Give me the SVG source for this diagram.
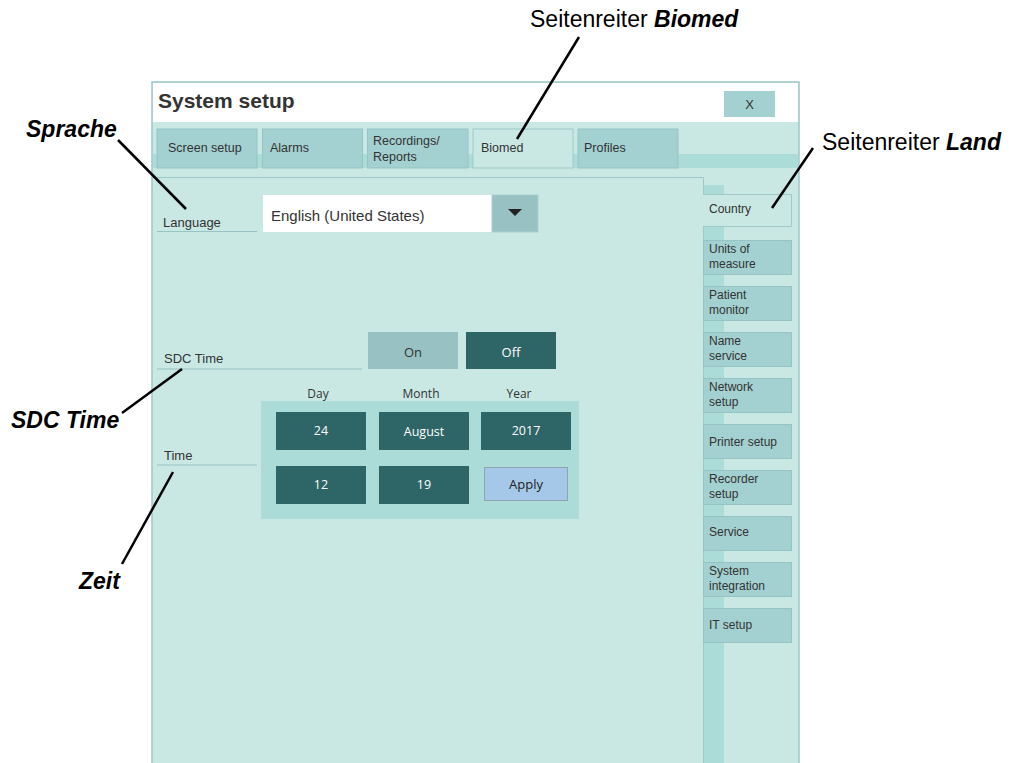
<svg xmlns="http://www.w3.org/2000/svg" width="1013" height="763" viewBox="0 0 1013 763">
  <style>
    .ui { font-family: "Liberation Sans", Arial, sans-serif; fill: #333; }
    .seg { font-family: "Open Sans", "Liberation Sans", sans-serif; }
    .note { font-family: "Liberation Sans", Arial, sans-serif; font-size: 23px; fill: #000; }
    .bi { font-weight: bold; font-style: italic; }
    .tab { fill: #a3d0d0; stroke: #96c3c3; stroke-width: 1; }
    .side { fill: #a3d0d0; stroke: #96c3c3; stroke-width: 1; }
    .dark { fill: #2e6566; }
    .lead { stroke: #000; stroke-width: 2.5; fill: none; }
    .rule { stroke: #96c3c3; stroke-width: 1; }
  </style>

  <rect width="1013" height="763" fill="#fff"/>

  <!-- window frame -->
  <g id="window">
    <rect x="152" y="82" width="647" height="690" fill="#c9e8e4" stroke="#9cc8c8" stroke-width="1.5"/>
    <rect x="153" y="83" width="645" height="39" fill="#fff"/>
    <text class="ui" x="158" y="108" font-size="21" font-weight="bold">System setup</text>
    <g id="close-button">
      <rect x="724" y="91" width="51" height="26" fill="#a3d0d0"/>
      <text class="ui" x="749.500" y="109" font-size="13" text-anchor="middle">X</text>
    </g>
    <!-- strip behind the top tabs -->
    <rect x="153" y="154" width="645" height="14" fill="#acdcd8"/>
  </g>

  <!-- top tabs -->
  <g id="tab-screen-setup">
    <rect class="tab" x="157" y="129" width="100" height="39"/>
    <text class="ui" x="168" y="152" font-size="12.5">Screen setup</text>
  </g>
  <g id="tab-alarms">
    <rect class="tab" x="262.500" y="129" width="100" height="39"/>
    <text class="ui" x="270" y="152" font-size="12.5">Alarms</text>
  </g>
  <g id="tab-recordings">
    <rect class="tab" x="367.500" y="129" width="100.500" height="39"/>
    <text class="ui" x="373" y="145" font-size="12.5">Recordings/</text>
    <text class="ui" x="373" y="161" font-size="12.5">Reports</text>
  </g>
  <g id="tab-biomed">
    <rect x="473" y="129" width="100" height="39" fill="#c9e8e4" stroke="#9ec9c9" stroke-width="1"/>
    <text class="ui" x="481" y="152" font-size="12.5">Biomed</text>
  </g>
  <g id="tab-profiles">
    <rect class="tab" x="578" y="129" width="100" height="39"/>
    <text class="ui" x="584" y="152" font-size="12.5">Profiles</text>
  </g>

  <!-- side column -->
  <g id="side-column">
    <rect x="703" y="185" width="21" height="587" fill="#acdcd8"/>
  </g>

  <!-- main content panel -->
  <g id="panel">
    <rect x="153" y="177" width="550" height="595" fill="#c9e8e4"/>
    <path d="M152.500 177.500 H703.500 V194 M703.500 227 V772" stroke="#9ec9c9" stroke-width="1" fill="none"/>
  </g>

  <!-- side tabs -->
  <g id="tab-country">
    <path d="M703 194.500 H791.500 V226.500 H703" fill="#c9e8e4" stroke="#9ec9c9" stroke-width="1"/>
    <rect x="702" y="195" width="3" height="31" fill="#c9e8e4"/>
    <text class="ui" x="709" y="213" font-size="12">Country</text>
  </g>
  <g id="tab-units">
    <rect class="side" x="703.500" y="240.500" width="88" height="34"/>
    <text class="ui" x="709" y="253" font-size="12">Units of</text>
    <text class="ui" x="709" y="268" font-size="12">measure</text>
  </g>
  <g id="tab-patient-monitor">
    <rect class="side" x="703.500" y="286.500" width="88" height="34"/>
    <text class="ui" x="709" y="299" font-size="12">Patient</text>
    <text class="ui" x="709" y="314" font-size="12">monitor</text>
  </g>
  <g id="tab-name-service">
    <rect class="side" x="703.500" y="332.500" width="88" height="34"/>
    <text class="ui" x="709" y="345" font-size="12">Name</text>
    <text class="ui" x="709" y="360" font-size="12">service</text>
  </g>
  <g id="tab-network-setup">
    <rect class="side" x="703.500" y="378.500" width="88" height="34"/>
    <text class="ui" x="709" y="391" font-size="12">Network</text>
    <text class="ui" x="709" y="406" font-size="12">setup</text>
  </g>
  <g id="tab-printer-setup">
    <rect class="side" x="703.500" y="424.500" width="88" height="34"/>
    <text class="ui" x="709" y="446" font-size="12">Printer setup</text>
  </g>
  <g id="tab-recorder-setup">
    <rect class="side" x="703.500" y="470.500" width="88" height="34"/>
    <text class="ui" x="709" y="483" font-size="12">Recorder</text>
    <text class="ui" x="709" y="498" font-size="12">setup</text>
  </g>
  <g id="tab-service">
    <rect class="side" x="703.500" y="516.500" width="88" height="34"/>
    <text class="ui" x="709" y="536" font-size="12">Service</text>
  </g>
  <g id="tab-system-integration">
    <rect class="side" x="703.500" y="562.500" width="88" height="34"/>
    <text class="ui" x="709" y="575" font-size="12">System</text>
    <text class="ui" x="709" y="590" font-size="12">integration</text>
  </g>
  <g id="tab-it-setup">
    <rect class="side" x="703.500" y="608.500" width="88" height="34"/>
    <text class="ui" x="709" y="629" font-size="12">IT setup</text>
  </g>

  <!-- language row -->
  <g id="language">
    <text class="ui" x="163" y="227" font-size="13">Language</text>
    <line class="rule" x1="157" y1="231.500" x2="257" y2="231.500"/>
    <rect x="263" y="195" width="229" height="37" fill="#fff"/>
    <text class="ui" x="271" y="221" font-size="15">English (United States)</text>
    <rect x="492" y="195" width="46" height="37" fill="#97c1c3" stroke="#a9cfcf" stroke-width="1"/>
    <path d="M508 209 H522 L515 216 Z" fill="#222"/>
  </g>

  <!-- SDC time row -->
  <g id="sdc-time">
    <text class="ui" x="164" y="363" font-size="13">SDC Time</text>
    <line class="rule" x1="157" y1="369" x2="362" y2="369"/>
    <rect x="368" y="332" width="90" height="37" fill="#97c1c3"/>
    <text class="seg" x="413" y="357" font-size="13" fill="#333" text-anchor="middle">On</text>
    <rect class="dark" x="466" y="332" width="90" height="37"/>
    <text class="seg" x="511" y="357" font-size="13" fill="#fff" text-anchor="middle">Off</text>
  </g>

  <!-- time row -->
  <g id="time">
    <text class="ui" x="164" y="460" font-size="13">Time</text>
    <line class="rule" x1="157" y1="465" x2="257" y2="465"/>
    <text class="seg" x="318" y="398" font-size="12" fill="#333" text-anchor="middle">Day</text>
    <text class="seg" x="421" y="398" font-size="12" fill="#333" text-anchor="middle">Month</text>
    <text class="seg" x="519" y="398" font-size="12" fill="#333" text-anchor="middle">Year</text>
    <rect x="261" y="401" width="318" height="118" fill="#acdcd8"/>
    <rect class="dark" x="276" y="412" width="90" height="38"/>
    <text class="seg" x="321" y="435" font-size="12.5" fill="#fff" text-anchor="middle">24</text>
    <rect class="dark" x="379" y="412" width="90" height="38"/>
    <text class="seg" x="424" y="436" font-size="12.5" fill="#fff" text-anchor="middle">August</text>
    <rect class="dark" x="481" y="412" width="90" height="38"/>
    <text class="seg" x="526" y="435" font-size="12.5" fill="#fff" text-anchor="middle">2017</text>
    <rect class="dark" x="276" y="466" width="90" height="38"/>
    <text class="seg" x="321" y="489" font-size="12.5" fill="#fff" text-anchor="middle">12</text>
    <rect class="dark" x="379" y="466" width="90" height="38"/>
    <text class="seg" x="424" y="489" font-size="12.5" fill="#fff" text-anchor="middle">19</text>
    <rect x="484.500" y="467.500" width="83" height="33" fill="#a5c8e8" stroke="#8fa3b3" stroke-width="1"/>
    <text class="seg" x="526" y="489" font-size="13" fill="#222" text-anchor="middle">Apply</text>
  </g>

  <!-- annotation labels -->
  <g id="label-sprache">
    <text class="note bi" x="26" y="137">Sprache</text>
  </g>
  <g id="label-sdc-time">
    <text class="note bi" x="11" y="428">SDC Time</text>
  </g>
  <g id="label-zeit">
    <text class="note bi" x="79" y="589">Zeit</text>
  </g>
  <g id="label-biomed">
    <text class="note" x="530" y="27">Seitenreiter <tspan class="bi">Biomed</tspan></text>
  </g>
  <g id="label-land">
    <text class="note" x="822" y="150">Seitenreiter <tspan class="bi">Land</tspan></text>
  </g>

  <!-- leader lines -->
  <g id="connectors">
    <line class="lead" x1="118" y1="140" x2="186" y2="209"/>
    <line class="lead" x1="122" y1="413" x2="182" y2="369"/>
    <line class="lead" x1="122" y1="564" x2="173" y2="472"/>
    <line class="lead" x1="579" y1="37" x2="517" y2="139"/>
    <line class="lead" x1="813" y1="148" x2="772" y2="208"/>
  </g>
</svg>
